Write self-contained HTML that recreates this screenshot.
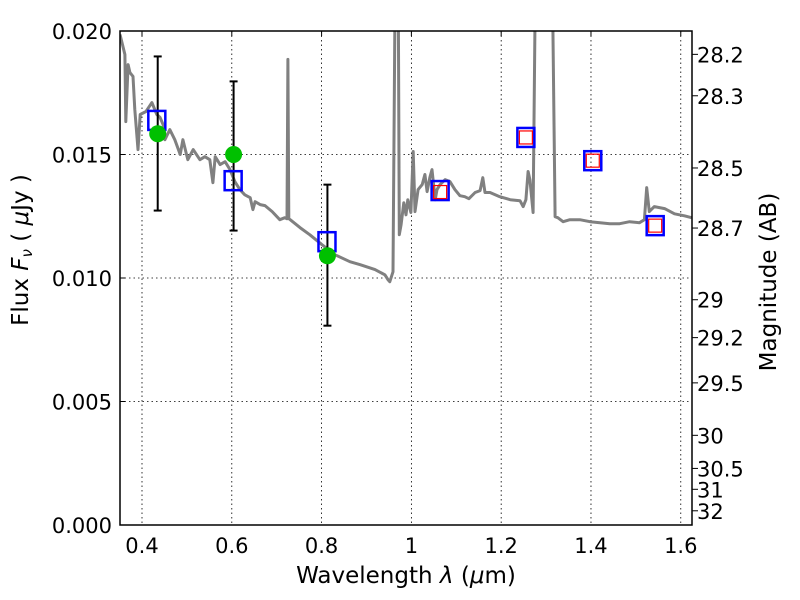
<!DOCTYPE html>
<html><head><meta charset="utf-8"><style>
html,body{margin:0;padding:0;background:#fff;}
svg{display:block;font-family:"DejaVu Sans","Liberation Sans",sans-serif;}
</style></head><body>
<svg id="chart" width="800" height="600" viewBox="0 0 800 600" xmlns="http://www.w3.org/2000/svg">
<defs><clipPath id="plotclip"><rect x="120" y="31" width="572" height="494"/></clipPath></defs>
<rect x="0" y="0" width="800" height="600" fill="#fff"/>
<g id="grid"></g>
<g id="series" clip-path="url(#plotclip)"></g>
<rect x="120" y="31" width="572" height="494" fill="none" stroke="#000" stroke-width="1.5"/>
<g id="axes" font-size="21" fill="#000"></g>
<text x="406" y="583" text-anchor="middle" font-size="23">Wavelength  <tspan font-style="italic">λ</tspan> (<tspan font-style="italic">μ</tspan>m)</text>
<text transform="translate(28,250) rotate(-90)" text-anchor="middle" font-size="23">Flux  <tspan font-style="italic">F<tspan font-size="15" dy="4">ν</tspan></tspan><tspan dy="-4">  ( </tspan><tspan font-style="italic">μ</tspan>Jy )</text>
<text transform="translate(776,282) rotate(-90)" text-anchor="middle" font-size="23">Magnitude (AB)</text>
</svg>
<script>
const specLam=[0.351,0.362,0.364,0.369,0.373,0.380,0.384,0.391,0.396,0.409,0.422,0.433,0.440,0.447,0.451,0.462,0.473,0.485,0.491,0.502,0.514,0.529,0.540,0.551,0.558,0.563,0.574,0.585,0.596,0.607,0.618,0.629,0.641,0.647,0.652,0.663,0.674,0.690,0.707,0.718,0.723,0.725,0.727,0.730,0.752,0.774,0.801,0.830,0.863,0.886,0.919,0.941,0.948,0.952,0.959,0.963,0.966,0.970,0.973,0.977,0.983,0.988,0.992,0.999,1.004,1.008,1.015,1.024,1.030,1.035,1.041,1.046,1.053,1.057,1.064,1.075,1.086,1.097,1.108,1.119,1.128,1.142,1.153,1.159,1.164,1.175,1.197,1.220,1.242,1.249,1.255,1.260,1.264,1.271,1.275,1.278,1.312,1.320,1.326,1.338,1.353,1.375,1.398,1.420,1.442,1.464,1.486,1.508,1.519,1.524,1.530,1.541,1.564,1.586,1.608,1.624];
const specFlux=[0.01986,0.01905,0.01633,0.01864,0.01832,0.01816,0.01682,0.01520,0.01662,0.01674,0.01710,0.01662,0.01650,0.01621,0.01560,0.01601,0.01560,0.01500,0.01560,0.01479,0.01520,0.01479,0.01491,0.01479,0.01386,0.01491,0.01459,0.01471,0.01439,0.01390,0.01358,0.01337,0.01325,0.01277,0.01309,0.01297,0.01293,0.01269,0.01236,0.01244,0.01240,0.01885,0.01240,0.01236,0.01204,0.01175,0.01135,0.01094,0.01066,0.01054,0.01034,0.01013,0.00993,0.00985,0.01025,0.0200,0.025,0.025,0.01175,0.01216,0.01305,0.01256,0.01317,0.01265,0.01512,0.01269,0.01358,0.01378,0.01419,0.01350,0.01406,0.01439,0.01317,0.01358,0.01378,0.01398,0.01390,0.01358,0.01333,0.01329,0.01321,0.01346,0.01354,0.01406,0.01346,0.01346,0.01329,0.01317,0.01313,0.01289,0.01317,0.01431,0.01398,0.01265,0.0200,0.025,0.025,0.01248,0.01244,0.01228,0.01236,0.01236,0.01228,0.01224,0.01220,0.01220,0.01228,0.01224,0.01236,0.01366,0.01269,0.01289,0.01281,0.01260,0.01252,0.01244];
const obsLam=[0.435,0.604,0.813];
const obsFlux=[0.01584,0.0150,0.0109];
const obsErrLow=[0.01273,0.01192,0.00807];
const obsErrHigh=[0.01897,0.01796,0.01378];
const modelLam=[0.433,0.603,0.812,1.064,1.255,1.404,1.543];
const modelFlux=[0.01638,0.01394,0.01147,0.01354,0.01569,0.01475,0.01212];
const redLam=[1.064,1.255,1.404,1.543];
const redFlux=[0.01348,0.01569,0.01475,0.01212];
const xTicks=[0.4,0.6,0.8,1.0,1.2,1.4,1.6];
const xTickLabels=["0.4","0.6","0.8","1","1.2","1.4","1.6"];
const yTicks=[0,0.005,0.010,0.015,0.020];
const yTickLabels=["0.000","0.005","0.010","0.015","0.020"];
const magTicks=[28.2,28.3,28.5,28.7,29,29.2,29.5,30,30.5,31,32];
const magTickLabels=["28.2","28.3","28.5","28.7","29","29.2","29.5","30","30.5","31","32"];

const X0=120,X1=692,Y0=525,Y1=31,XMIN=0.351,XMAX=1.625,YMIN=0,YMAX=0.020;
const sx=v=>X0+(v-XMIN)/(XMAX-XMIN)*(X1-X0);
const sy=v=>Y0-(v-YMIN)/(YMAX-YMIN)*(Y0-Y1);
const magToFlux=m=>Math.pow(10,(23.9-m)/2.5);
const NS='http://www.w3.org/2000/svg';
function mk(tag,parent,attrs){const e=document.createElementNS(NS,tag);for(const k in attrs)e.setAttribute(k,attrs[k]);parent.appendChild(e);return e;}
const grid=document.getElementById('grid'),series=document.getElementById('series'),axes=document.getElementById('axes');

xTicks.forEach((t,i)=>{
  const x=sx(t);
  const g=mk('line',grid,{x1:x,x2:x,y1:Y1,y2:Y0,stroke:'#000','stroke-width':0.8,'stroke-dasharray':'1.5,3'});
  
  
  const tk=mk('line',axes,{x1:x,x2:x,y1:Y1,y2:Y1+5,stroke:'#000','stroke-width':1});
  
  
  const l=mk('text',axes,{x:x,y:553,'text-anchor':'middle'});l.textContent=xTickLabels[i];
  
  
});
yTicks.forEach((t,i)=>{
  const y=sy(t);
  if(t>0&&t<YMAX){const g=mk('line',grid,{x1:X0,x2:X1,y1:y,y2:y,stroke:'#000','stroke-width':0.8,'stroke-dasharray':'1.5,3'});
  
  }
  const tk=mk('line',axes,{x1:X0,x2:X0+5,y1:y,y2:y,stroke:'#000','stroke-width':1});
  
  
  const l=mk('text',axes,{x:112,y:y+8,'text-anchor':'end'});l.textContent=yTickLabels[i];
  
  
});
magTicks.forEach((m,i)=>{
  const y=sy(magToFlux(m));
  const tk=mk('line',axes,{x1:X1,x2:X1+6,y1:y,y2:y,stroke:'#000','stroke-width':1});
  
  
  const l=mk('text',axes,{x:697,y:y+8,'text-anchor':'start'});l.textContent=magTickLabels[i];
  
  
});

const pts=specLam.map((l,i)=>sx(l).toFixed(1)+','+sy(specFlux[i]).toFixed(1)).join(' ');
const sp=mk('polyline',series,{points:pts,fill:'none',stroke:'#808080','stroke-width':3,'stroke-linejoin':'round'});



obsLam.forEach((l,i)=>{
  const x=sx(l),ylo=sy(obsErrLow[i]),yhi=sy(obsErrHigh[i]);
  const g=mk('g',series,{});
  
  
  mk('line',g,{x1:x,x2:x,y1:ylo,y2:yhi,stroke:'#000','stroke-width':2});
  mk('line',g,{x1:x-4,x2:x+4,y1:ylo,y2:ylo,stroke:'#000','stroke-width':2});
  mk('line',g,{x1:x-4,x2:x+4,y1:yhi,y2:yhi,stroke:'#000','stroke-width':2});
});
modelLam.forEach((l,i)=>{
  const r=mk('rect',series,{x:sx(l)-8.5,y:sy(modelFlux[i])-9.5,width:17,height:19,fill:'none',stroke:'#0000ff','stroke-width':2.5});
  
  
});
redLam.forEach((l,i)=>{
  const r=mk('rect',series,{x:sx(l)-6.5,y:sy(redFlux[i])-6.5,width:13,height:13,fill:'none',stroke:'#ff0000','stroke-width':1.2});
  
  
});
obsLam.forEach((l,i)=>{
  const c=mk('circle',series,{cx:sx(l),cy:sy(obsFlux[i]),r:8.5,fill:'#00c000'});
  
  
});
</script>
</body></html>
